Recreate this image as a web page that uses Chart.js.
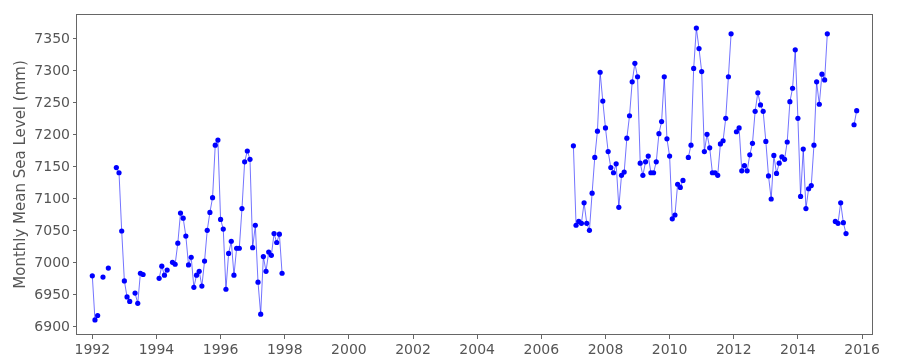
<!DOCTYPE html>
<html>
<head>
<meta charset="utf-8">
<title>Monthly Mean Sea Level</title>
<script src="https://cdn.jsdelivr.net/npm/chart.js@4.4.1/dist/chart.umd.min.js"></script>
<style>
    body { margin: 0; background: #fff; }
    #chart-wrap { width: 900px; height: 360px; }
</style>
</head>
<body>
<div id="chart-wrap"><canvas id="sea-level-chart" width="900" height="360"></canvas></div>
<script>
// First run of records, one value per month from Jan 1992 (null = month missing)
const startA = [1992, 1];
const levelsA = [
    6980, 6911, 6918, null, 6978, null, 6992, null, null, 7149, 7141, 7050,
    6972, 6947, 6940, null, 6953, 6937, 6984, 6982, null, null, null, null,
    null, 6976, 6995, 6981, 6989, null, 7001, 6998, 7031, 7078, 7070, 7042,
    6997, 7009, 6962, 6981, 6987, 6964, 7003, 7051, 7079, 7102, 7184, 7192,
    7068, 7053, 6959, 7015, 7034, 6981, 7023, 7023, 7085, 7158, 7175, 7162,
    7024, 7059, 6970, 6920, 7010, 6987, 7017, 7012, 7046, 7032, 7045, 6984
];

// Second run of records, one value per month from Jan 2007
const startB = [2007, 1];
const levelsB = [
    7183, 7059, 7065, 7062, 7094, 7062, 7051, 7109, 7165, 7206, 7298, 7253,
    7211, 7174, 7149, 7141, 7155, 7087, 7137, 7142, 7195, 7230, 7283, 7312,
    7291, 7156, 7137, 7158, 7167, 7141, 7141, 7158, 7202, 7221, 7291, 7194,
    7167, 7069, 7075, 7123, 7118, 7129, null, 7165, 7184, 7304, 7367, 7335,
    7299, 7174, 7201, 7180, 7141, 7141, 7137, 7186, 7191, 7226, 7291, 7358,
    null, 7205, 7211, 7144, 7152, 7144, 7169, 7187, 7237, 7266, 7247, 7237,
    7190, 7136, 7100, 7168, 7140, 7156, 7166, 7162, 7189, 7252, 7273, 7333,
    7226, 7104, 7178, 7085, 7116, 7121, 7184, 7283, 7248, 7295, 7286, 7358,
    null, null, 7065, 7062, 7094, 7063, 7046, null, null, 7216, 7238
];

const xTicks = [1992, 1994, 1996, 1998, 2000, 2002, 2004, 2006, 2008, 2010, 2012, 2014, 2016];
const yTicks = [6900, 6950, 7000, 7050, 7100, 7150, 7200, 7250, 7300, 7350];
const yTitle = 'Monthly Mean Sea Level (mm)';

const axisGrey = '#666';
const textGrey = '#555';
const tickFont = { family: 'DejaVu Sans', size: 14 };

// Function to turn a run of monthly values into points on a decimal-year axis
function toPoints(start, values) {
    return values.map((v, i) => ({ x: start[0] + (start[1] - 1 + i) / 12, y: v }));
}

// Same look for both runs
function lineStyle(points) {
    return {
        data: points,
        borderColor: 'rgba(0, 0, 255, 0.55)',
        borderWidth: 1,
        backgroundColor: '#0000ff',
        pointRadius: 2.6,
        pointBorderWidth: 0,
        pointBackgroundColor: '#0000ff',
        spanGaps: false,
        tension: 0
    };
}

// Box round the plot area (all four sides, like the original)
const framePlugin = {
    id: 'frame',
    afterDatasetsDraw(chart) {
        const a = chart.chartArea;
        const ctx = chart.ctx;
        ctx.save();
        ctx.strokeStyle = axisGrey;
        ctx.lineWidth = 1;
        ctx.strokeRect(Math.round(a.left) - 0.5, Math.round(a.top) + 0.5,
            Math.round(a.right - a.left) + 1, Math.round(a.bottom - a.top) - 1);
        ctx.restore();
    }
};

const ctx = document.getElementById('sea-level-chart').getContext('2d');
new Chart(ctx, {
    type: 'line',
    data: {
        datasets: [lineStyle(toPoints(startA, levelsA)), lineStyle(toPoints(startB, levelsB))]
    },
    options: {
        responsive: false,
        animation: false,
        devicePixelRatio: 1,
        layout: { padding: { left: 0, top: 14, right: 28, bottom: 0 } },
        plugins: {
            legend: { display: false },
            tooltip: { enabled: false }
        },
        scales: {
            x: {
                type: 'linear',
                min: 1991.523,
                max: 2016.31,
                afterBuildTicks: scale => { scale.ticks = xTicks.map(v => ({ value: v })); },
                afterFit: scale => { scale.height = 25; },
                border: { display: false },
                grid: { drawOnChartArea: false, drawTicks: true, tickLength: 4, color: axisGrey },
                ticks: {
                    color: textGrey,
                    font: tickFont,
                    padding: 3,
                    maxRotation: 0,
                    autoSkip: false,
                    callback: v => String(v)
                }
            },
            y: {
                type: 'linear',
                min: 6887.5,
                max: 7389,
                afterBuildTicks: scale => { scale.ticks = yTicks.map(v => ({ value: v })); },
                afterFit: scale => { scale.width = 77; },
                border: { display: false },
                grid: { drawOnChartArea: false, drawTicks: true, tickLength: 4, color: axisGrey },
                ticks: {
                    color: textGrey,
                    font: tickFont,
                    padding: 3,
                    autoSkip: false,
                    callback: v => String(v)
                },
                title: {
                    display: true,
                    text: yTitle,
                    color: textGrey,
                    font: { family: 'DejaVu Sans', size: 15 },
                    padding: { top: 12, bottom: 0 }
                }
            }
        }
    },
    plugins: [framePlugin]
});
</script>
</body>
</html>
